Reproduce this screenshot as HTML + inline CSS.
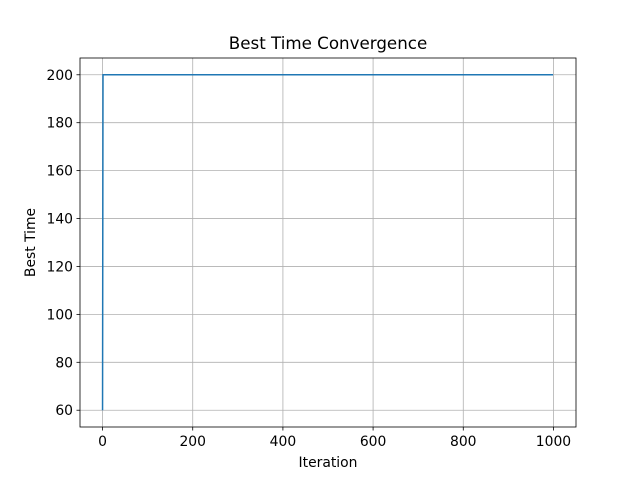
<!DOCTYPE html>
<html><head><meta charset="utf-8"><style>
body{margin:0;background:#fff}
svg{display:block;font-family:"DejaVu Sans","Liberation Sans",sans-serif}
</style></head><body>
<svg id="chart" width="640" height="480">
<rect width="640" height="480" fill="#fff"/>
<g id="grid"></g>
<g id="ticks"></g>
<path id="series" fill="none" stroke="#1f77b4" stroke-width="1.5"/>
<rect x="80" y="58" width="496" height="369" fill="none" stroke="#000" stroke-width="0.8"/>
<text x="328" y="49" text-anchor="middle" font-size="16.7">Best Time Convergence</text>
<text x="328" y="467" text-anchor="middle" font-size="13.9">Iteration</text>
<text x="0" y="0" transform="translate(35,242.5) rotate(-90)" text-anchor="middle" font-size="13.9">Best Time</text>
</svg>
<script>
const iterations = [0, 1, 999];
const bestTimes = [60, 200, 200];
const xTicks = [0, 200, 400, 600, 800, 1000];
const yTicks = [60, 80, 100, 120, 140, 160, 180, 200];

const L=80,R=576,T=58,B=427;
const xMin=-50,xMax=1050,yMin=53,yMax=207;
const sx=v=>L+(v-xMin)/(xMax-xMin)*(R-L);
const sy=v=>B-(v-yMin)/(yMax-yMin)*(B-T);
const NS="http://www.w3.org/2000/svg";
const grid=document.getElementById('grid'), ticks=document.getElementById('ticks');
function mk(tag,attrs,parent){const e=document.createElementNS(NS,tag);for(const k in attrs)e.setAttribute(k,attrs[k]);parent.appendChild(e);return e;}
xTicks.forEach(v=>{
  const x=sx(v);
  const g=mk('line',{x1:x,x2:x,y1:T,y2:B,stroke:'#b0b0b0','stroke-width':0.8},grid);
  
  
  const t=mk('line',{x1:x,x2:x,y1:B,y2:B+3.5,stroke:'#000','stroke-width':0.8},ticks);
  
  
  const l=mk('text',{x:x,y:B+19,'text-anchor':'middle','font-size':13.9},ticks);
  l.textContent=v;
  
  
});
yTicks.forEach(v=>{
  const y=sy(v);
  const g=mk('line',{x1:L,x2:R,y1:y,y2:y,stroke:'#b0b0b0','stroke-width':0.8},grid);
  
  
  const t=mk('line',{x1:L-3.5,x2:L,y1:y,y2:y,stroke:'#000','stroke-width':0.8},ticks);
  
  
  const l=mk('text',{x:L-7,y:y+5,'text-anchor':'end','font-size':13.9},ticks);
  l.textContent=v;
  
  
});
document.getElementById('series').setAttribute('d',iterations.map((v,i)=>(i?'L':'M')+sx(v)+','+sy(bestTimes[i])).join(''));
</script>
</body></html>
